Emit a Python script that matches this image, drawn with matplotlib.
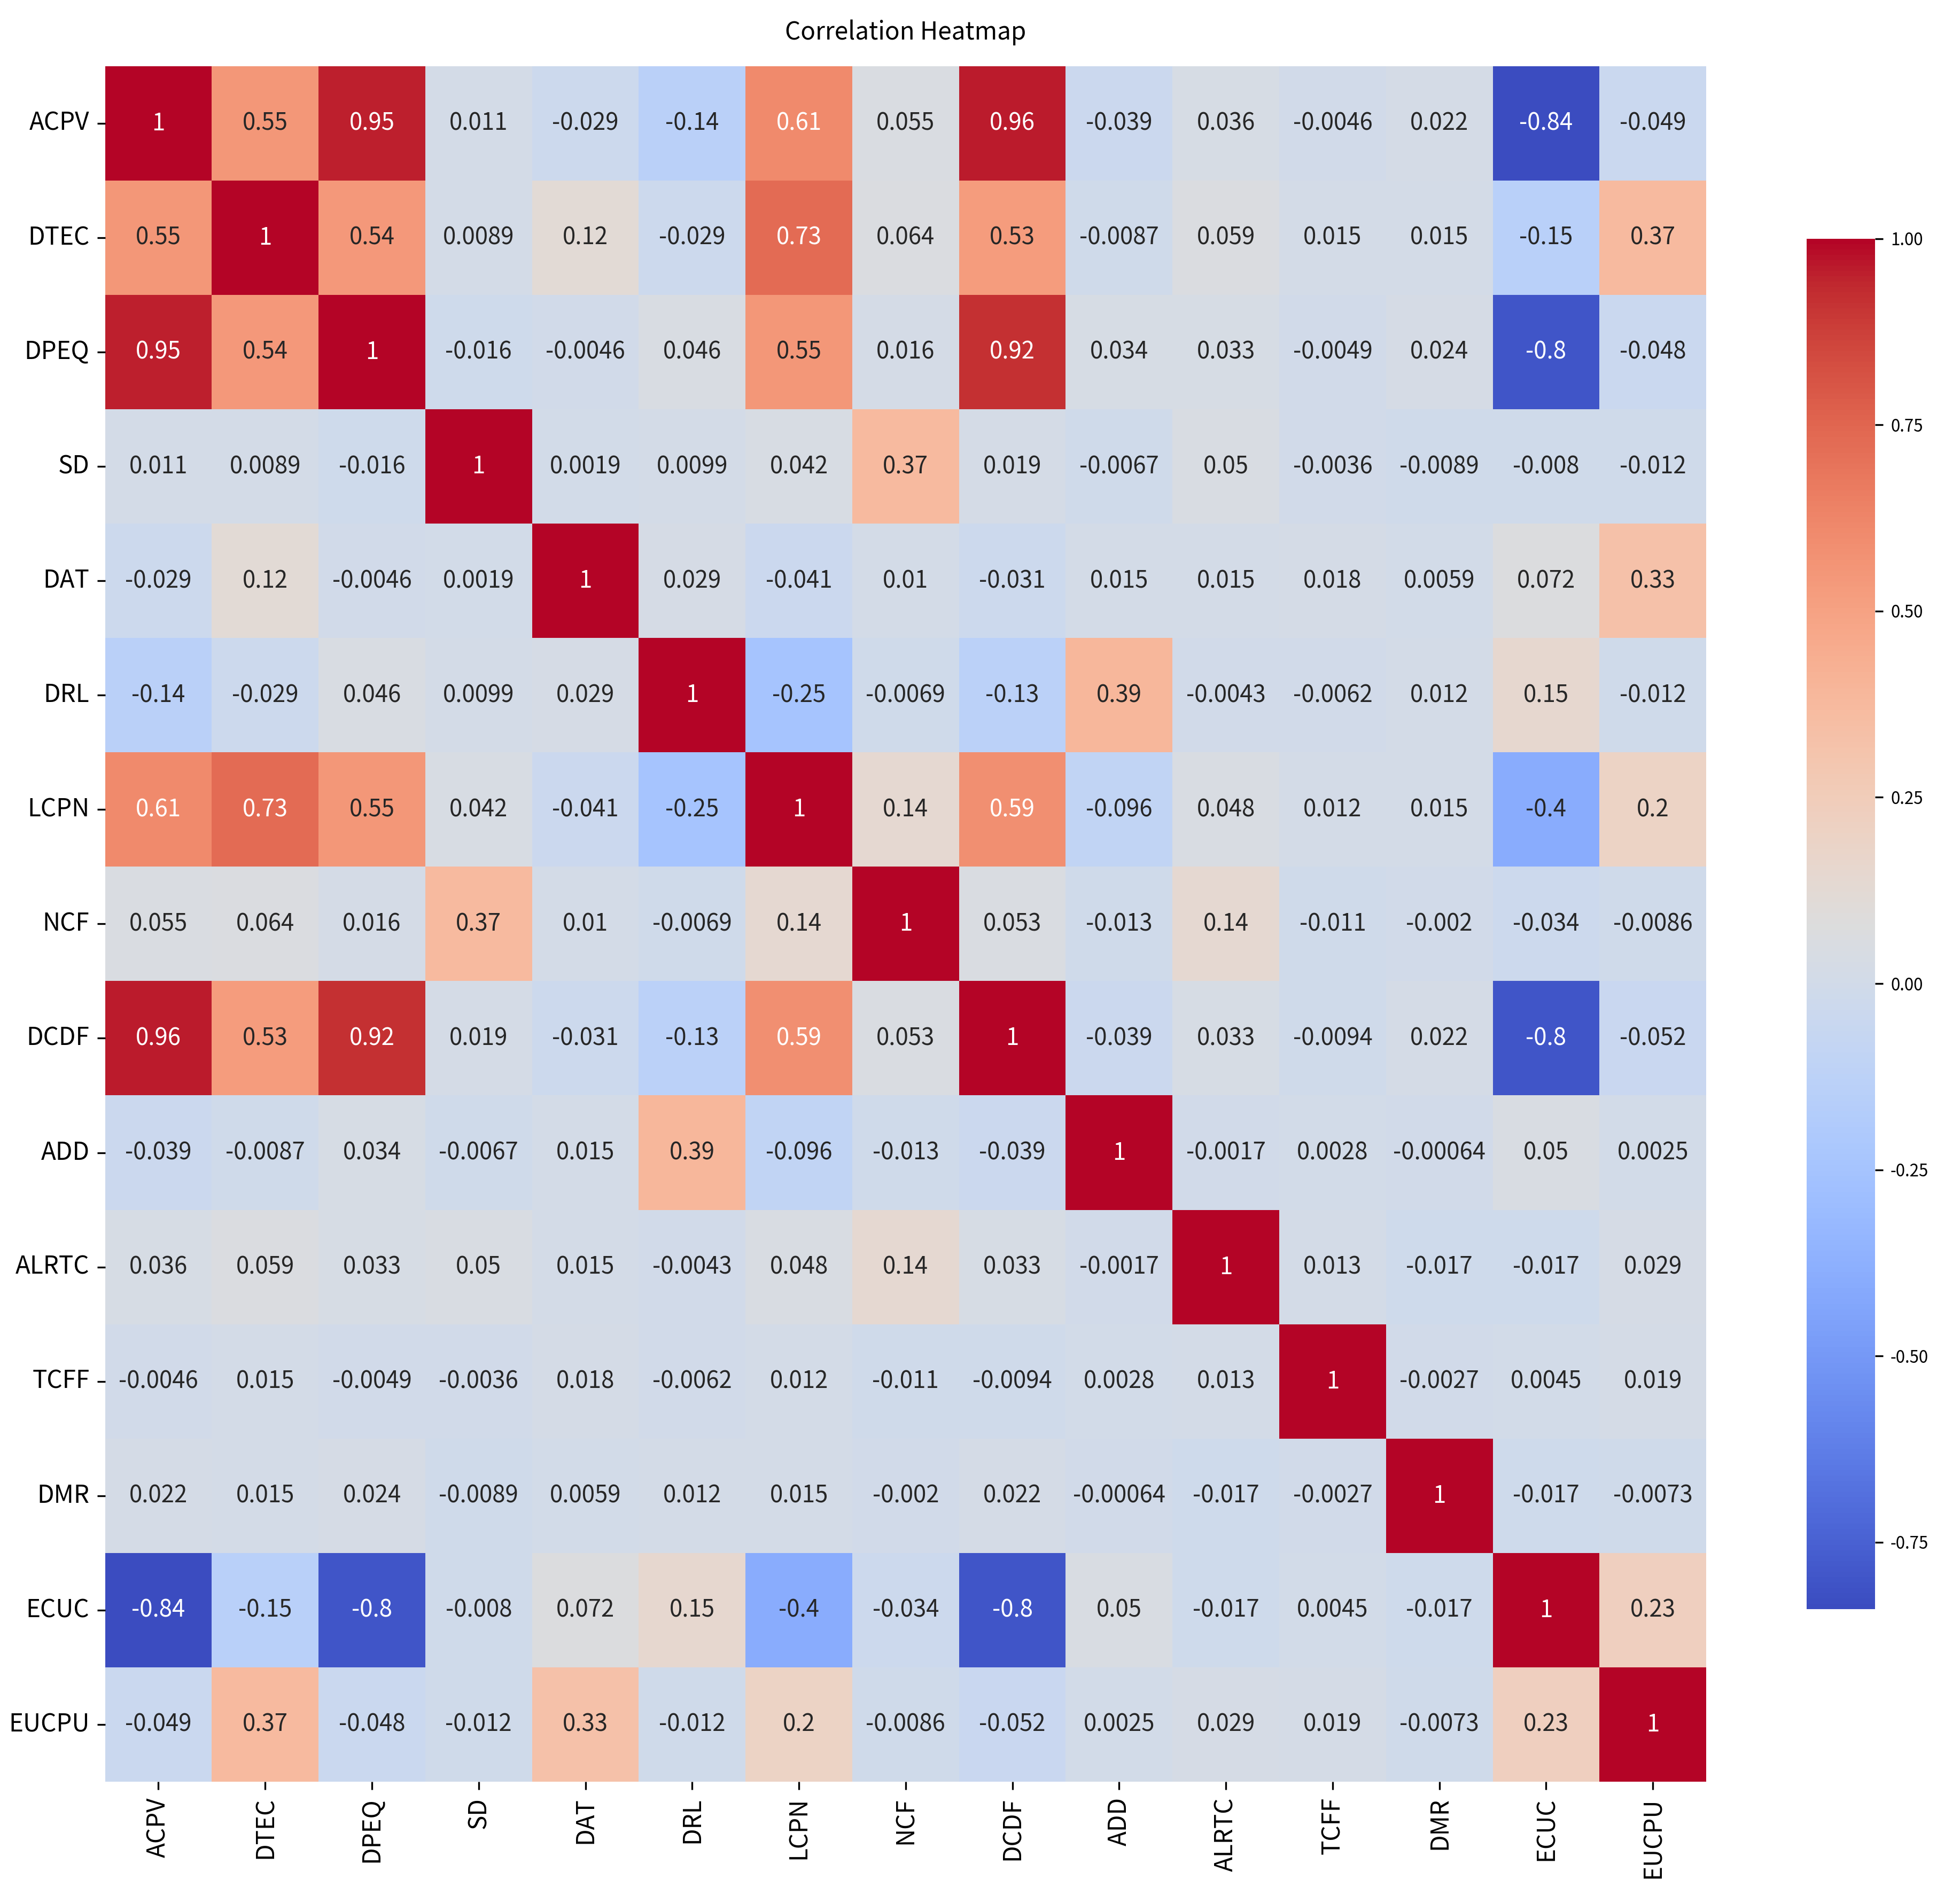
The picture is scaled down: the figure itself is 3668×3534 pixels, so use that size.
import numpy as np
import matplotlib
matplotlib.use('Agg')
import matplotlib.pyplot as plt
import seaborn as sns

plt.rcParams['font.family'] = ['Noto Sans CJK SC', 'DejaVu Sans']
plt.rcParams['axes.unicode_minus'] = False

labels = ['ACPV', 'DTEC', 'DPEQ', 'SD', 'DAT', 'DRL', 'LCPN', 'NCF', 'DCDF',
          'ADD', 'ALRTC', 'TCFF', 'DMR', 'ECUC', 'EUCPU']

corr = np.array([
    [1, .55, .95, .011, -.029, -.14, .61, .055, .96, -.039, .036, -.0046, .022, -.84, -.049],
    [.55, 1, .54, .0089, .12, -.029, .73, .064, .53, -.0087, .059, .015, .015, -.15, .37],
    [.95, .54, 1, -.016, -.0046, .046, .55, .016, .92, .034, .033, -.0049, .024, -.8, -.048],
    [.011, .0089, -.016, 1, .0019, .0099, .042, .37, .019, -.0067, .05, -.0036, -.0089, -.008, -.012],
    [-.029, .12, -.0046, .0019, 1, .029, -.041, .01, -.031, .015, .015, .018, .0059, .072, .33],
    [-.14, -.029, .046, .0099, .029, 1, -.25, -.0069, -.13, .39, -.0043, -.0062, .012, .15, -.012],
    [.61, .73, .55, .042, -.041, -.25, 1, .14, .59, -.096, .048, .012, .015, -.4, .2],
    [.055, .064, .016, .37, .01, -.0069, .14, 1, .053, -.013, .14, -.011, -.002, -.034, -.0086],
    [.96, .53, .92, .019, -.031, -.13, .59, .053, 1, -.039, .033, -.0094, .022, -.8, -.052],
    [-.039, -.0087, .034, -.0067, .015, .39, -.096, -.013, -.039, 1, -.0017, .0028, -.00064, .05, .0025],
    [.036, .059, .033, .05, .015, -.0043, .048, .14, .033, -.0017, 1, .013, -.017, -.017, .029],
    [-.0046, .015, -.0049, -.0036, .018, -.0062, .012, -.011, -.0094, .0028, .013, 1, -.0027, .0045, .019],
    [.022, .015, .024, -.0089, .0059, .012, .015, -.002, .022, -.00064, -.017, -.0027, 1, -.017, -.0073],
    [-.84, -.15, -.8, -.008, .072, .15, -.4, -.034, -.8, .05, -.017, .0045, -.017, 1, .23],
    [-.049, .37, -.048, -.012, .33, -.012, .2, -.0086, -.052, .0025, .029, .019, -.0073, .23, 1],
])

fig = plt.figure(figsize=(12.227, 11.78), dpi=300)
ax = fig.add_axes([0.0536, 0.0563, 0.8169, 0.9087])
cax = fig.add_axes([0.9216, 0.1476, 0.035, 0.726])

sns.heatmap(corr, annot=True, fmt='.2g', cmap='coolwarm', ax=ax, cbar_ax=cax,
            xticklabels=labels, yticklabels=labels, annot_kws={'size': 10.5})
ax.tick_params(labelsize=11)
plt.setp(ax.get_xticklabels(), rotation=90)
plt.setp(ax.get_yticklabels(), rotation=0)
cax.tick_params(labelsize=7.5)
cax.yaxis.set_major_formatter(matplotlib.ticker.FormatStrFormatter('%.2f'))
ax.set_title('Correlation Heatmap', fontsize=11, pad=12)

fig.savefig('out.png', dpi=300)
